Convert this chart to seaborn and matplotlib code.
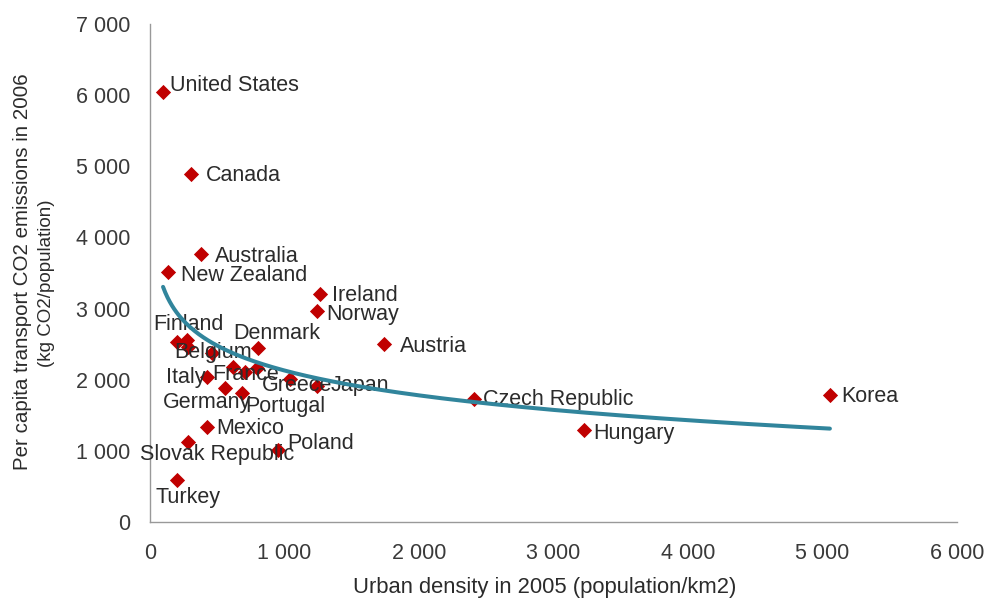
import numpy as np
import pandas as pd
import matplotlib
matplotlib.use("Agg")
import matplotlib.pyplot as plt
from matplotlib.ticker import FuncFormatter
import seaborn as sns

# urban density (pop/km2) vs per capita transport CO2 (kg/pop)
countries = ["United States", "Canada", "Australia", "New Zealand", "Ireland", "Norway",
             "Austria", "Denmark", "Finland", "", "", "Belgium", "Italy", "France", "",
             "", "Germany", "Portugal", "Greece", "Japan", "Czech Republic", "Hungary",
             "Korea", "Mexico", "Slovak Republic", "Poland", "Turkey"]
density = [97, 305, 379, 134, 1264, 1241, 1739, 803, 201, 275, 282, 461, 424, 617, 706,
           795, 557, 684, 1041, 1241, 2408, 3226, 5055, 424, 282, 951, 201]
co2 = [6044, 4892, 3767, 3514, 3205, 2966, 2502, 2446, 2530, 2558, 2460, 2376, 2038, 2179,
       2109, 2165, 1884, 1813, 2010, 1912, 1729, 1293, 1785, 1335, 1125, 1012, 590]

# label placement (pixel offsets from the point, horizontal alignment)
label_pos = {
    "United States": (7, 7, "left"), "Canada": (15, -2, "left"),
    "Australia": (14, -2, "left"), "New Zealand": (13, -3, "left"),
    "Ireland": (12, -2, "left"), "Norway": (9, -4, "left"),
    "Austria": (16, -2, "left"), "Denmark": (19, 14, "center"),
    "Finland": (11, 18, "center"), "Belgium": (1, 0, "center"),
    "Italy": (-2, 0, "right"), "France": (-21, -8, "left"),
    "Germany": (-18, -15, "center"), "Portugal": (3, -13, "left"),
    "Greece": (7, -6, "center"), "Japan": (14, 0, "left"),
    "Czech Republic": (9, -1, "left"), "Hungary": (9, -3, "left"),
    "Korea": (11, -1, "left"), "Mexico": (9, -1, "left"),
    "Slovak Republic": (29, -13, "center"), "Poland": (9, 7, "left"),
    "Turkey": (11, -17, "center"),
}

df = pd.DataFrame({"country": countries, "density": density, "co2": co2})

sns.set_style("white")
plt.rcParams["font.family"] = ["Liberation Sans", "DejaVu Sans"]
text_col = "#2b2b2b"

fig = plt.figure(figsize=(9.86, 6.01), dpi=100)
ax = fig.add_axes([150 / 986, 1 - 522 / 601, 807 / 986, 498 / 601])

sns.scatterplot(data=df, x="density", y="co2", marker="D", color="#C00000", s=60,
                linewidth=0, ax=ax, zorder=3)

# logarithmic trend line, like the spreadsheet one
a, b = np.polyfit(np.log(df["density"]), df["co2"], 1)
xs = np.linspace(df["density"].min(), df["density"].max(), 300)
sns.lineplot(x=xs, y=a * np.log(xs) + b, color="#31859C", linewidth=2.9, ax=ax, zorder=5)

for _, r in df.iterrows():
    if r["country"] in label_pos:
        dx, dy, ha = label_pos[r["country"]]
        ax.annotate(r["country"], (r["density"], r["co2"]), xytext=(dx, dy),
                    textcoords="offset pixels", ha=ha, va="center", fontsize=15.5,
                    color=text_col, zorder=4)

ax.set_xlim(0, 6000)
ax.set_ylim(0, 7000)
ax.set_xticks(range(0, 6001, 1000))
ax.set_yticks(range(0, 7001, 1000))
fmt = FuncFormatter(lambda v, p: f"{int(v):,}".replace(",", " "))
ax.xaxis.set_major_formatter(fmt)
ax.yaxis.set_major_formatter(fmt)
ax.tick_params(length=0, labelsize=15.5, labelcolor="#3a3a3a")
ax.tick_params(axis="x", pad=15)
ax.tick_params(axis="y", pad=14)

for s in ["top", "right"]:
    ax.spines[s].set_visible(False)
for s in ["left", "bottom"]:
    ax.spines[s].set_color("#999999")
    ax.spines[s].set_linewidth(1)

ax.set_xlabel("")
ax.set_ylabel("")
fig.text(545 / 986, 1 - 588 / 601, "Urban density in 2005 (population/km2)", ha="center",
         va="center", fontsize=15.8, color=text_col)
fig.text(23 / 986, 1 - 272 / 601, "Per capita transport CO2 emissions in 2006", rotation=90,
         ha="center", va="center", fontsize=14.8, color=text_col)
fig.text(47 / 986, 1 - 283 / 601, "(kg CO2/population)", rotation=90,
         ha="center", va="center", fontsize=13.5, color=text_col)

fig.savefig("out.png", dpi=100)
